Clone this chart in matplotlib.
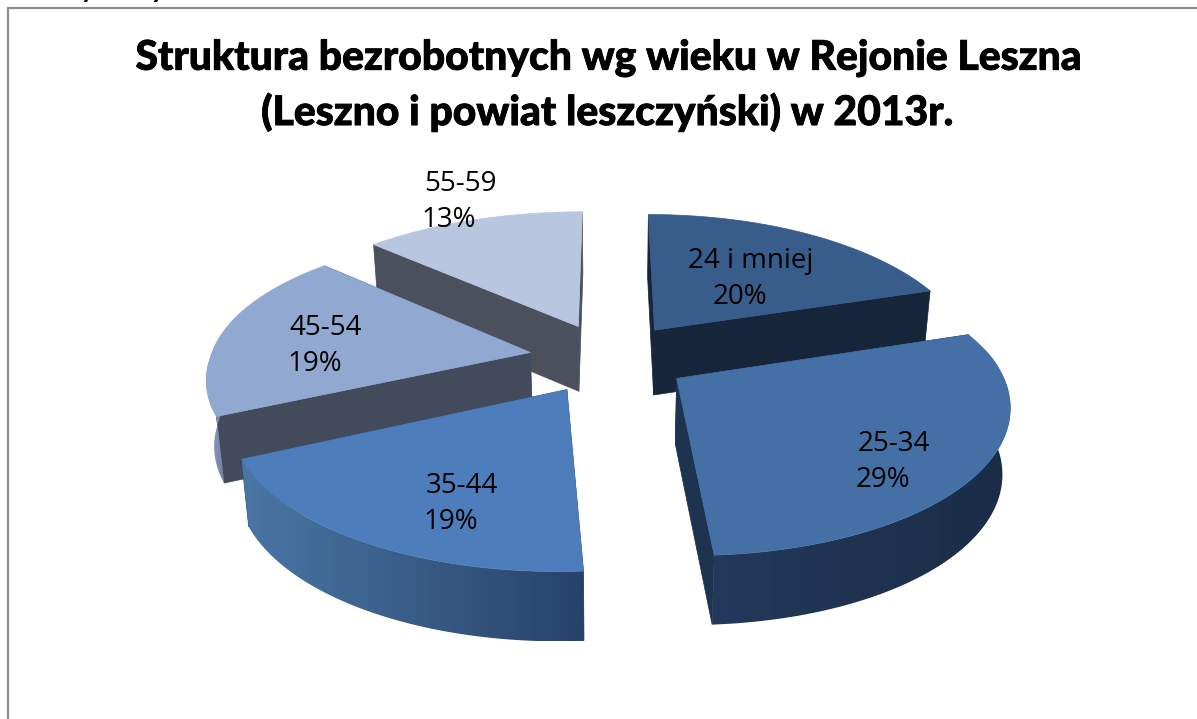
import numpy as np
import matplotlib
matplotlib.use('Agg')
import matplotlib.pyplot as plt
import matplotlib.patheffects as pe
from matplotlib.colors import LinearSegmentedColormap
from matplotlib.patches import Polygon

# udzial grup wieku w %
age_groups = ['24 i mniej', '25-34', '35-44', '45-54', '55-59']
shares = [20, 29, 19, 19, 13]

title_lines = ['Struktura bezrobotnych wg wieku w Rejonie Leszna',
               '(Leszno i powiat leszczyński) w 2013r.']

top_colors = ['#385d8a', '#4470a6', '#4d7dba', '#91a8d0', '#b9c6e0']
radial_colors = ['#17253a', '#1e3350', '#27426a', '#424a5c', '#4c505c']
arc_left = ['#17253a', '#24395b', '#4a76a5', '#9aa9c8', '#8a93a8']
arc_right = ['#17253a', '#1a2c46', '#27426a', '#6f7f9c', '#4c505c']

# pozycje etykiet w pikselach
label_pos = [(751, 261), (894, 444), (462, 486), (326, 328), (460, 184)]

# parametry rzutu
cx, cy = 609, 358
Rx, Ry = 320, 142
persp = 0.158
shrink_x = 0.02
shrink_y = 0.055
skew = -7
depth = 69
explode = 0.25

fig = plt.figure(figsize=(11.97, 7.19), dpi=100)
ax = fig.add_axes([0, 0, 1, 1])
zo = [1]


def project(u, v, z=0.0):
    w = 1 + persp * v
    sx = cx + (Rx * u + skew * u ** 2 * np.clip(v, 0, None)) / (w * (1 + shrink_x * z))
    sy = cy + (-Ry * v + depth * z) / (w * (1 + shrink_y * z))
    return np.column_stack([sx, sy])


def next_z():
    zo[0] += 1
    return zo[0]


def add_face(xy, color):
    ax.add_patch(Polygon(xy, closed=True, fc=color, ec=color, lw=0.5, zorder=next_z()))


def add_gradient(xy, c1, c2):
    cmap = LinearSegmentedColormap.from_list('g', [c1, c2])
    x0, x1 = xy[:, 0].min(), xy[:, 0].max()
    y0, y1 = xy[:, 1].min(), xy[:, 1].max()
    z = next_z()
    im = ax.imshow(np.linspace(0, 1, 256).reshape(1, -1), cmap=cmap, aspect='auto',
                   extent=[x0, x1, y1, y0], zorder=z, interpolation='bilinear')
    poly = Polygon(xy, closed=True, fc='none', ec='none', transform=ax.transData)
    im.set_clip_path(poly)


fractions = np.array(shares) / sum(shares)
edges = np.concatenate([[0], np.cumsum(fractions)]) * 2 * np.pi

# kolejnosc rysowania: od tylu do przodu
for i in [4, 0, 3, 2, 1]:
    t1, t2 = edges[i], edges[i + 1]
    mid = (t1 + t2) / 2
    du, dv = explode * np.sin(mid), explode * np.cos(mid)
    t = np.linspace(t1, t2, 120)
    u, v = du + np.sin(t), dv + np.cos(t)
    apex = np.array([du]), np.array([dv])

    # boki radialne
    for tt in (t1, t2):
        us = np.array([du, du + np.sin(tt)])
        vs = np.array([dv, dv + np.cos(tt)])
        side = np.vstack([project(us, vs, 0), project(us[::-1], vs[::-1], 1)])
        add_face(side, radial_colors[i])

    # luk zewnetrzny, tylko czesc widoczna od przodu
    front = np.cos(t) < 0.05
    if front.sum() > 1:
        uf, vf = u[front], v[front]
        arc = np.vstack([project(uf, vf, 0), project(uf[::-1], vf[::-1], 1)])
        add_gradient(arc, arc_left[i], arc_right[i])

    # wierzch
    top = np.vstack([project(*apex, 0), project(u, v, 0)])
    add_face(top, top_colors[i])

ax.set_xlim(0, 1197)
ax.set_ylim(719, 0)
ax.axis('off')

# ramka wykresu
ax.plot([8, 8, 1197], [719, 7.5, 7.5], color='#8c8c8c', lw=1.6, zorder=50, solid_joinstyle='miter')

# uciete litery nad ramka
for xp in (88, 158):
    ax.text(xp, -2, 'y', family='Lato', fontweight='black', fontsize=18, ha='center', va='baseline',
            color='black', clip_on=False)

heavy = [pe.withStroke(linewidth=0.6, foreground='black')]
ax.text(610, 58, title_lines[0], family='Lato', fontweight='black', fontsize=29.4, ha='center',
        va='center', color='black', zorder=60, path_effects=heavy)
ax.text(608, 112, title_lines[1], family='Lato', fontweight='black', fontsize=29.4, ha='center',
        va='center', color='black', zorder=60, path_effects=heavy)

for name, sh, (lx, ly) in zip(age_groups, shares, label_pos):
    ax.text(lx, ly, name, family='Open Sans', fontsize=20, ha='center', va='center', color='black', zorder=60)
    ax.text(lx - 11, ly + 36, f'{sh}%', family='Open Sans', fontsize=20, ha='center', va='center',
            color='black', zorder=60)

fig.savefig('out.png', dpi=100, facecolor='white')
